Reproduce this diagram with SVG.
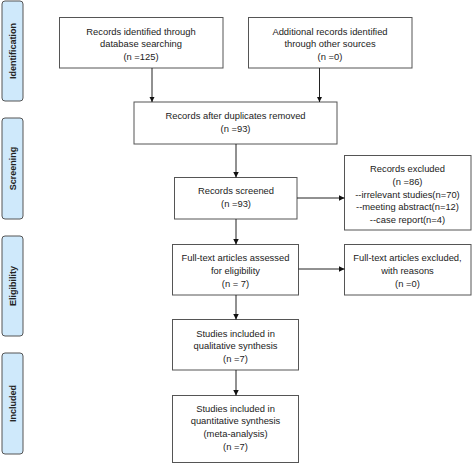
<svg xmlns="http://www.w3.org/2000/svg" width="472" height="464" viewBox="0 0 472 464">
<defs>
<marker id="ah" markerWidth="6" markerHeight="6" refX="5.5" refY="2.75" orient="auto" markerUnits="userSpaceOnUse">
<path d="M0,0 L5.5,2.75 L0,5.5 Z" fill="#111"/>
</marker>
</defs>
<style>
.box{fill:#fff;stroke:#555;stroke-width:1}
.side{fill:#cfe9fb;stroke:#555;stroke-width:1}
.t{font-family:"Liberation Sans",Arial,sans-serif;font-size:9.4px;fill:#222;text-anchor:middle}
.s{font-family:"Liberation Sans",Arial,sans-serif;font-size:9px;font-weight:bold;fill:#222;text-anchor:middle}
.c{stroke:#222;stroke-width:1;fill:none;marker-end:url(#ah)}
</style>
<rect width="472" height="464" fill="#fff"/>
<g id="side-identification"><rect class="side" x="2" y="1" width="21" height="100" rx="3"/><text class="s" transform="translate(15.5,51) rotate(-90)">Identification</text></g>
<g id="side-screening"><rect class="side" x="2" y="118" width="21" height="101" rx="3"/><text class="s" transform="translate(15.5,168.5) rotate(-90)">Screening</text></g>
<g id="side-eligibility"><rect class="side" x="2" y="236" width="21" height="100" rx="3"/><text class="s" transform="translate(15.5,286) rotate(-90)">Eligibility</text></g>
<g id="side-included"><rect class="side" x="2" y="353" width="21" height="101" rx="3"/><text class="s" transform="translate(15.5,403.5) rotate(-90)">Included</text></g>

<g id="db"><rect class="box" x="59.5" y="17.5" width="163.5" height="50.5"/>
<text class="t" x="141" y="34.5">Records identified through</text>
<text class="t" x="141" y="47">database searching</text>
<text class="t" x="141" y="60">(n =125)</text></g>
<g id="other"><rect class="box" x="248.5" y="17.5" width="163.5" height="50.5"/>
<text class="t" x="330" y="34.5">Additional records identified</text>
<text class="t" x="330" y="47">through other sources</text>
<text class="t" x="330" y="60">(n =0)</text></g>
<g id="dup"><rect class="box" x="134" y="102" width="203" height="42"/>
<text class="t" x="235.5" y="119">Records after duplicates removed</text>
<text class="t" x="235.5" y="131.5">(n =93)</text></g>
<g id="screened"><rect class="box" x="174.5" y="177.5" width="122.5" height="41.5"/>
<text class="t" x="236" y="194">Records screened</text>
<text class="t" x="236" y="207">(n =93)</text></g>
<g id="excluded"><rect class="box" x="344.5" y="155.5" width="126.5" height="74.5"/>
<text class="t" x="407.5" y="172">Records excluded</text>
<text class="t" x="407.5" y="185">(n =86)</text>
<text class="t" x="407.5" y="197.5">--irrelevant studies(n=70)</text>
<text class="t" x="407.5" y="210">--meeting abstract(n=12)</text>
<text class="t" x="407.5" y="222.5">--case report(n=4)</text></g>
<g id="fulltext"><rect class="box" x="172.5" y="244.5" width="126" height="50.5"/>
<text class="t" x="235.5" y="261">Full-text articles assessed</text>
<text class="t" x="235.5" y="273.5">for eligibility</text>
<text class="t" x="235.5" y="286.5">(n = 7)</text></g>
<g id="ftexcluded"><rect class="box" x="344.5" y="244.5" width="126.5" height="50.5"/>
<text class="t" x="407.5" y="261">Full-text articles excluded,</text>
<text class="t" x="407.5" y="273.5">with reasons</text>
<text class="t" x="407.5" y="286.5">(n =0)</text></g>
<g id="qual"><rect class="box" x="172.5" y="319.5" width="126" height="50.5"/>
<text class="t" x="235.5" y="336.5">Studies included in</text>
<text class="t" x="235.5" y="349">qualitative synthesis</text>
<text class="t" x="235.5" y="362">(n =7)</text></g>
<g id="quant"><rect class="box" x="172.5" y="395.5" width="126" height="67"/>
<text class="t" x="235.5" y="411.5">Studies included in</text>
<text class="t" x="235.5" y="424">quantitative synthesis</text>
<text class="t" x="235.5" y="436.5">(meta-analysis)</text>
<text class="t" x="235.5" y="449.5">(n =7)</text></g>

<g id="connectors">
<line class="c" x1="152" y1="68" x2="152" y2="102"/>
<line class="c" x1="319.5" y1="68" x2="319.5" y2="102"/>
<line class="c" x1="236" y1="144" x2="236" y2="177.5"/>
<line class="c" x1="236" y1="219" x2="236" y2="244.5"/>
<line class="c" x1="297" y1="198" x2="344.5" y2="198"/>
<line class="c" x1="298.5" y1="269" x2="344.5" y2="269"/>
<line class="c" x1="236" y1="295" x2="236" y2="319.5"/>
<line class="c" x1="236" y1="370" x2="236" y2="395.5"/>
</g>
</svg>
